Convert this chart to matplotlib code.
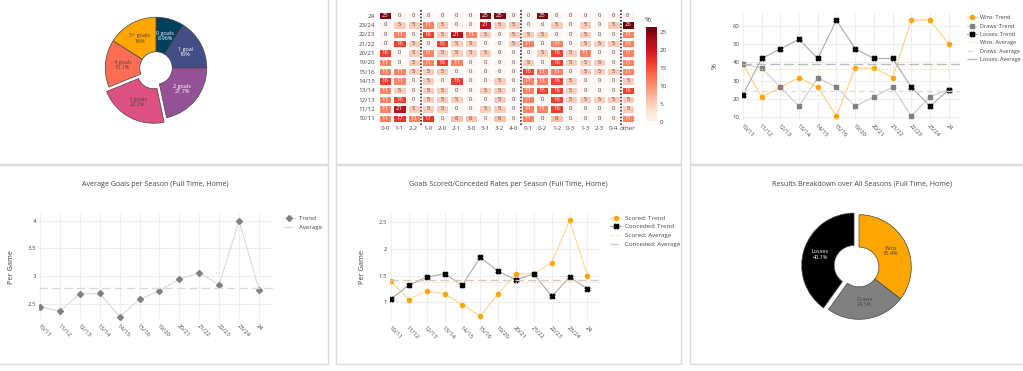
import numpy as np
import matplotlib
matplotlib.use('Agg')
import matplotlib.pyplot as plt
from matplotlib.patches import Rectangle

plt.rcParams['font.family'] = ['Open Sans', 'DejaVu Sans']

# ---- data ----
seasons = ['10/11', '11/12', '12/13', '13/14', '14/15', '15/16',
           '19/20', '20/21', '21/22', '22/23', '23/24', '24']

goal_labels = ['0 goals', '1 goal', '2 goals', '3 goals', '4 goals', '5+ goals']
goal_pcts = [8.96, 16, 21.7, 22.2, 15.1, 16]
goal_colors = ['#003f5c', '#444e86', '#955196', '#dd5182', '#ff6e54', '#ffa600']

score_cols = ['0-0', '1-1', '2-2', '1-0', '2-0', '2-1', '3-0', '3-1', '3-2', '4-0',
              '0-1', '0-2', '1-2', '0-3', '1-3', '2-3', '0-4', 'other']
heat_rows = ['24', '23/24', '22/23', '21/22', '20/21', '19/20',
             '15/16', '14/15', '13/14', '12/13', '11/12', '10/11']
heat_vals = [
    [25, 0, 0, 0, 0, 0, 0, 25, 25, 0, 0, 25, 0, 0, 0, 0, 0, 0],
    [0, 5, 5, 11, 5, 0, 0, 21, 5, 5, 0, 0, 5, 0, 5, 0, 5, 26],
    [0, 11, 0, 16, 5, 21, 11, 5, 0, 5, 5, 5, 0, 0, 5, 0, 0, 11],
    [0, 16, 5, 0, 16, 5, 5, 0, 0, 5, 11, 0, 11, 0, 5, 5, 5, 11],
    [16, 0, 5, 11, 5, 5, 5, 5, 0, 0, 0, 5, 16, 5, 11, 0, 0, 11],
    [11, 0, 5, 11, 16, 11, 0, 0, 0, 0, 5, 0, 16, 5, 5, 5, 0, 11],
    [11, 11, 5, 5, 5, 0, 0, 0, 0, 0, 16, 11, 11, 0, 5, 5, 5, 11],
    [16, 11, 0, 5, 0, 16, 0, 0, 5, 0, 11, 11, 16, 5, 0, 0, 0, 5],
    [11, 5, 0, 5, 5, 0, 0, 5, 5, 0, 11, 16, 16, 5, 0, 0, 0, 16],
    [11, 16, 0, 5, 5, 5, 0, 0, 5, 0, 11, 0, 16, 5, 5, 5, 5, 5],
    [11, 21, 5, 5, 5, 0, 0, 5, 5, 0, 11, 11, 16, 0, 0, 0, 0, 5],
    [11, 17, 11, 17, 0, 6, 6, 0, 6, 0, 11, 0, 6, 0, 0, 0, 0, 11],
]

wins_pct = [38.9, 21.1, 26.3, 31.6, 26.3, 10.5, 36.8, 36.8, 31.6, 63.2, 63.2, 50]
draws_pct = [38.9, 36.8, 26.3, 15.8, 31.6, 26.3, 15.8, 21.1, 26.3, 10.5, 21.1, 25]
losses_pct = [22.2, 42.1, 47.4, 52.6, 42.1, 63.2, 47.4, 42.1, 42.1, 26.3, 15.8, 25]
wins_avg, draws_avg, losses_avg = 36.4, 24.5, 39.1

goals_per_game = [2.45, 2.37, 2.68, 2.69, 2.27, 2.58, 2.74, 2.95, 3.06, 2.85, 4.0, 2.75]
goals_avg = 2.78

scored = [1.39, 1.05, 1.21, 1.16, 0.95, 0.74, 1.16, 1.53, 1.53, 1.74, 2.53, 1.5]
conceded = [1.06, 1.32, 1.47, 1.53, 1.32, 1.84, 1.58, 1.42, 1.53, 1.11, 1.47, 1.25]
scored_avg, conceded_avg = 1.375, 1.415

result_labels = ['Wins', 'Draws', 'Losses']
result_pcts = [35.4, 24.5, 40.1]
result_colors = ['#ffa500', '#808080', '#000000']

# ---- figure ----
W, H = 1023, 371
fig = plt.figure(figsize=(W / 100, H / 100), dpi=100)
fig.patch.set_facecolor('white')


def px_axes(x0, y0, x1, y1):
    return fig.add_axes([x0 / W, 1 - y1 / H, (x1 - x0) / W, (y1 - y0) / H])


def card(x0, y0, x1, y1):
    fig.add_artist(Rectangle((x0 / W, 1 - y1 / H), (x1 - x0) / W, (y1 - y0) / H,
                             transform=fig.transFigure, fill=False,
                             edgecolor='#dcdcdc', linewidth=1))


card(-5, -5, 328, 164)
card(336, -5, 681, 164)
card(690, -5, 1030, 164)
card(-5, 165, 328, 364)
card(336, 165, 681, 364)
card(690, 165, 1030, 364)

TXT = '#444444'
GRID = '#eeeeee'


def style_line_ax(ax):
    for s in ax.spines.values():
        s.set_visible(False)
    ax.grid(True, color=GRID, linewidth=0.8)
    ax.set_axisbelow(True)
    ax.tick_params(length=0, labelsize=4.3, colors=TXT, pad=2)
    ax.set_xticks(range(len(seasons)))
    ax.set_xticklabels(seasons, rotation=-45, ha='left', va='top', rotation_mode='anchor')


def side_legend(ax, spacing=0.55, size=4.4, anchor=1.035, hl=1.9):
    ax.legend(loc='upper left', bbox_to_anchor=(anchor, 1.0), frameon=False, fontsize=size,
              labelcolor=TXT, handlelength=hl, handletextpad=0.6, labelspacing=spacing,
              borderaxespad=0)


# ---- pie: goals per game ----
ax = px_axes(156 - 66, 68 - 66, 156 + 66, 68 + 66)
wedges, texts = ax.pie(goal_pcts, colors=goal_colors, startangle=90, counterclock=False,
                       explode=[0, 0, 0, 0.1, 0, 0], radius=1,
                       labels=[f'{l}\n{p:.3g}%' for l, p in zip(goal_labels, goal_pcts)],
                       labeldistance=0.66,
                       wedgeprops=dict(width=0.68, edgecolor='#444444', linewidth=0.5),
                       textprops=dict(fontsize=4, ha='center', va='center', linespacing=1.1))
for t, c in zip(texts, ['white', 'white', 'white', TXT, TXT, TXT]):
    t.set_color(c)
ax.set_xlim(-1.3, 1.3)
ax.set_ylim(-1.3, 1.3)
ax.set_aspect('equal')

# ---- heatmap ----
ax = px_axes(378, 11, 635, 123)
vals = np.array(heat_vals)
mesh = ax.pcolormesh(vals, cmap='Reds', vmin=0, vmax=26.3, edgecolors='white', linewidth=1)
ax.set_ylim(len(heat_rows), 0)
ax.set_xlim(0, len(score_cols))
ax.set_xticks(np.arange(len(score_cols)) + 0.5)
ax.set_xticklabels(score_cols)
ax.set_yticks(np.arange(len(heat_rows)) + 0.5)
ax.set_yticklabels(heat_rows)
ax.tick_params(length=0, labelsize=4.5, colors=TXT, pad=2)
for s in ax.spines.values():
    s.set_visible(False)
for i in range(vals.shape[0]):
    for j in range(vals.shape[1]):
        v = vals[i, j]
        ax.text(j + 0.5, i + 0.5, str(v), ha='center', va='center', fontsize=4.2,
                color='white' if v > 10 else TXT)
for xb in [3, 10, 17]:
    ax.axvline(xb, color='#333333', linestyle=(0, (1, 1)), linewidth=1.2, ymin=-0.02, ymax=1.02,
               clip_on=False)
cax = px_axes(646, 27, 657, 122)
cb = fig.colorbar(mesh, cax=cax, ticks=[0, 5, 10, 15, 20, 25])
cb.outline.set_visible(False)
cax.tick_params(length=0, labelsize=4.5, colors=TXT, pad=2)
fig.text(648 / W, 1 - 20 / H, '%', fontsize=5, color=TXT, ha='center', va='center')

# ---- results per season ----
ax = px_axes(742, 13, 960, 120)
x = np.arange(len(seasons))
ax.plot(x, wins_pct, color='#ffcf80', linewidth=0.8, marker='o', markersize=3,
        markerfacecolor='#ffa500', markeredgecolor='#ffa500', label='Wins: Trend')
ax.plot(x, draws_pct, color='#cccccc', linewidth=0.8, marker='s', markersize=2.8,
        markerfacecolor='#808080', markeredgecolor='#808080', label='Draws: Trend')
ax.plot(x, losses_pct, color='#aaaaaa', linewidth=0.8, marker='X', markersize=3.5,
        markerfacecolor='black', markeredgecolor='black', label='Losses: Trend')
ax.axhline(wins_avg, color='#ffd699', linestyle=(0, (1, 1.5)), linewidth=0.8, label='Wins: Average')
ax.axhline(draws_avg, color='#dddddd', linestyle=(0, (4, 3)), linewidth=1, label='Draws: Average')
ax.axhline(losses_avg, color='#bbbbbb', linestyle=(0, (7, 3)), linewidth=1, label='Losses: Average')
style_line_ax(ax)
ax.set_xlim(-0.05, 11.6)
ax.set_ylim(8.3, 67.1)
ax.set_yticks([10, 20, 30, 40, 50, 60])
ax.set_ylabel('%', fontsize=5, color=TXT, labelpad=10)
side_legend(ax, spacing=0.6, size=4.0, anchor=1.02, hl=1.8)

# ---- average goals per season ----
ax = px_axes(39, 213, 273, 320)
ax.plot(x, goals_per_game, color='#d8d8d8', linewidth=0.8, marker='D', markersize=3,
        markerfacecolor='#808080', markeredgecolor='#808080', label='Trend')
ax.axhline(goals_avg, color='#d8d8d8', linestyle=(0, (6, 3)), linewidth=1, label='Average')
style_line_ax(ax)
ax.set_xlim(-0.05, 11.7)
ax.set_ylim(2.21, 4.14)
ax.set_yticks([2.5, 3, 3.5, 4])
ax.set_yticklabels(['2.5', '3', '3.5', '4'])
ax.set_ylabel('Per Game', fontsize=5.3, color=TXT, labelpad=9)
side_legend(ax, 0.6)
fig.text(155 / W, 1 - 184 / H, 'Average Goals per Season (Full Time, Home)',
         fontsize=5.1, color=TXT, ha='center', va='center')

# ---- scored / conceded ----
ax = px_axes(390, 213, 600, 322)
ax.plot(x, scored, color='#ffd699', linewidth=0.8, marker='o', markersize=3,
        markerfacecolor='#ffa500', markeredgecolor='#ffa500', label='Scored: Trend')
ax.plot(x, conceded, color='#aaaaaa', linewidth=0.8, marker='X', markersize=3.5,
        markerfacecolor='black', markeredgecolor='black', label='Conceded: Trend')
ax.axhline(scored_avg, color='#ffd699', linestyle=(0, (1, 1.5)), linewidth=0.8, label='Scored: Average')
ax.axhline(conceded_avg, color='#cccccc', linestyle=(0, (6, 3)), linewidth=1, label='Conceded: Average')
style_line_ax(ax)
ax.set_xlim(-0.05, 11.7)
ax.set_ylim(0.63, 2.67)
ax.set_yticks([1, 1.5, 2, 2.5])
ax.set_yticklabels(['1', '1.5', '2', '2.5'])
ax.set_ylabel('Per Game', fontsize=5.3, color=TXT, labelpad=9)
side_legend(ax)
fig.text(508 / W, 1 - 184 / H, 'Goals Scored/Conceded Rates per Season (Full Time, Home)',
         fontsize=5.1, color=TXT, ha='center', va='center')

# ---- results pie ----
ax = px_axes(859 - 68, 267 - 68, 859 + 68, 267 + 68)
wedges, texts = ax.pie(result_pcts, colors=result_colors, startangle=90, counterclock=False,
                       explode=[0, 0, 0.1], radius=1,
                       labels=[f'{l}\n{p}%' for l, p in zip(result_labels, result_pcts)],
                       labeldistance=0.68,
                       wedgeprops=dict(width=0.62, edgecolor='#444444', linewidth=0.5),
                       textprops=dict(fontsize=4, ha='center', va='center', linespacing=1.1))
for t, c in zip(texts, [TXT, TXT, 'white']):
    t.set_color(c)
ax.set_xlim(-1.3, 1.3)
ax.set_ylim(-1.3, 1.3)
ax.set_aspect('equal')
fig.text(862 / W, 1 - 184 / H, 'Results Breakdown over All Seasons (Full Time, Home)',
         fontsize=5.1, color=TXT, ha='center', va='center')

fig.savefig('out.png', dpi=100, facecolor='white')
